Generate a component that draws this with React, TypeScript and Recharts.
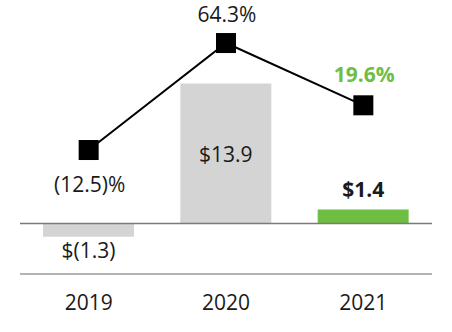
import { ComposedChart, Bar, Line, XAxis, YAxis, Cell, ReferenceLine, LabelList } from 'recharts';

const years = ['2019', '2020', '2021'];
const revenue = [-1.3, 13.9, 1.4];
const margin = [-12.5, 64.3, 19.6];
const revenueLabels = ['$(1.3)', '$13.9', '$1.4'];
const marginLabels = ['(12.5)%', '64.3%', '19.6%'];

const data = years.map((y, i) => ({ year: y, revenue: revenue[i], margin: margin[i] }));

const GRAY = '#d4d4d4';
const GREEN = '#6fbe44';
const FONT = '"Open Sans", sans-serif';

function SquareDot(props: any) {
  const { cx, cy } = props;
  if (cx == null || cy == null) return null;
  return <rect x={cx - 10} y={cy - 10} width={20} height={20} fill="#000" />;
}

function BarLabel(props: any) {
  const { x, y, width, height, index } = props;
  const cx = x + width / 2;
  const top = Math.min(y, y + height);
  const bottom = Math.max(y, y + height);
  let ty = 0;
  let bold = false;
  if (index === 0) ty = bottom + 21;
  else if (index === 1) ty = top + 79;
  else {
    ty = top - 12;
    bold = true;
  }
  return (
    <text x={cx} y={ty} textAnchor="middle" fontFamily={FONT} fontSize={21} fontWeight={bold ? 700 : 400} fill="#1a1a1a">
      {revenueLabels[index]}
    </text>
  );
}

function LineLabel(props: any) {
  const { x, y, index } = props;
  let ty = 0;
  let fill = '#1a1a1a';
  let bold = false;
  if (index === 0) ty = y + 42;
  else if (index === 1) ty = y - 21;
  else {
    ty = y - 23;
    fill = GREEN;
    bold = true;
  }
  return (
    <text x={x + 1} y={ty} textAnchor="middle" fontFamily={FONT} fontSize={21} fontWeight={bold ? 700 : 400} fill={fill}>
      {marginLabels[index]}
    </text>
  );
}

function YearTick(props: any) {
  const { x, payload } = props;
  return (
    <text x={x} y={310} textAnchor="middle" fontFamily={FONT} fontSize={21} fill="#1a1a1a">
      {payload.value}
    </text>
  );
}

export default function App() {
  return (
    <div style={{ position: 'absolute', left: 0, top: 0, width: 452, height: 332, background: '#fff' }}>
      <ComposedChart width={452} height={332} data={data} margin={{ top: 22, right: 20, left: 20, bottom: 0 }}>
        <XAxis
          dataKey="year"
          height={58}
          axisLine={{ stroke: '#9a9a9a', strokeWidth: 1.5 }}
          tickLine={false}
          tick={<YearTick />}
        />
        <YAxis yAxisId="rev" hide domain={[-5, 20]} allowDataOverflow />
        <YAxis yAxisId="pct" hide domain={[-101.5, 79.4]} allowDataOverflow />
        <Bar yAxisId="rev" dataKey="revenue" barSize={91} isAnimationActive={false}>
          {data.map((d, i) => (
            <Cell key={d.year} fill={i === 2 ? GREEN : GRAY} />
          ))}
          <LabelList dataKey="revenue" content={<BarLabel />} />
        </Bar>
        <ReferenceLine yAxisId="rev" y={0} stroke="#7a7a7a" strokeWidth={1.5} />
        <Line
          yAxisId="pct"
          dataKey="margin"
          stroke="#000"
          strokeWidth={2}
          dot={<SquareDot />}
          activeDot={false}
          isAnimationActive={false}
        >
          <LabelList dataKey="margin" content={<LineLabel />} />
        </Line>
      </ComposedChart>
    </div>
  );
}
